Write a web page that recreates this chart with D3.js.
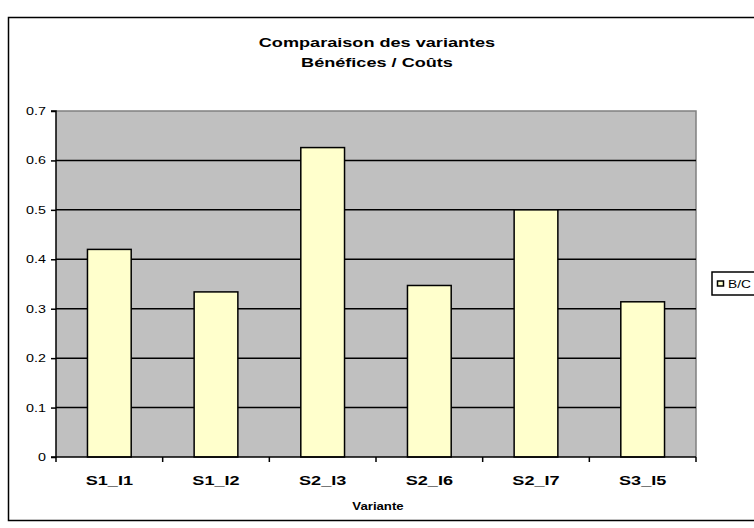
<!DOCTYPE html>
<html><head><meta charset="utf-8">
<script src="https://cdn.jsdelivr.net/npm/d3@7"></script>
<style>body{margin:0;background:#fff}svg{display:block}text{font-family:"Liberation Sans",Arial,sans-serif}</style>
</head><body><svg id="c" width="754" height="528"></svg>
<script>
const categories = ["S1_I1","S1_I2","S2_I3","S2_I6","S2_I7","S3_I5"];
const values = [0.42, 0.334, 0.626, 0.347, 0.5, 0.314];
const yTicks = [0,0.1,0.2,0.3,0.4,0.5,0.6,0.7];
const titleLines = ["Comparaison des variantes","Bénéfices / Coûts"];
const seriesName = "B/C";
const xTitle = "Variante";

const svg = d3.select("#c");
const L=56, R=696, T=111, B=457;
function stext(parent, x, y, str, size, bold, sx, anchor){
  const g = parent.append("g").attr("transform",`translate(${x},${y}) scale(${sx},1)`);
  g.append("text").attr("text-anchor",anchor||"middle").attr("font-size",size)
    .attr("font-weight",bold?"bold":"normal").attr("fill","#000").text(str);
  return g;
}
// outer frame
svg.append("rect").attr("x",8.5).attr("y",17.5).attr("width",760).attr("height",503)
  .attr("fill","#fff").attr("stroke","#000").attr("stroke-width",1.5);

const x = d3.scaleBand().domain(categories).range([L,R]).paddingInner(0.59).paddingOuter(0.295);
const xb = d3.scaleBand().domain(categories).range([L,R]);
const y = d3.scaleLinear().domain([0,0.7]).range([B,T]);

svg.append("rect").attr("x",L).attr("y",T).attr("width",R-L).attr("height",B-T).attr("fill","#c0c0c0");
svg.append("path").attr("d",`M${L},${T}H${R}V${B}`).attr("fill","none").attr("stroke","#808080").attr("stroke-width",1.5);
svg.append("g").selectAll("line").data(yTicks.filter(d=>d>0 && d<0.7)).join("line")
  .attr("x1",L).attr("x2",R).attr("y1",d=>y(d)).attr("y2",d=>y(d)).attr("stroke","#000").attr("stroke-width",1.5);
svg.append("g").selectAll("rect").data(values).join("rect")
  .attr("x",(d,i)=>x(categories[i])).attr("width",x.bandwidth())
  .attr("y",d=>y(d)).attr("height",d=>B-y(d))
  .attr("fill","#ffffcc").attr("stroke","#000").attr("stroke-width",1.5);

// y axis
const ya = svg.append("g").attr("transform",`translate(${L},0)`)
  .call(d3.axisLeft(y).tickValues(yTicks).tickFormat(()=>"").tickSize(5));
ya.select(".domain").attr("stroke","#000").attr("stroke-width",1.5).attr("d",`M-5,${T}H0V${B}H-5`);
ya.selectAll(".tick line").attr("stroke","#000").attr("stroke-width",1.5);
const yl = svg.append("g");
yTicks.forEach(t=>stext(yl, L-10, y(t)+4, d3.format("")(t), 11, false, 1.3, "end"));

// x axis
const xg = svg.append("g");
xg.append("line").attr("x1",L).attr("x2",R).attr("y1",B).attr("y2",B).attr("stroke","#000").attr("stroke-width",1.5);
const bounds = categories.map(c=>xb(c)).concat([R]);
xg.selectAll("line.t").data(bounds).join("line").attr("class","t")
  .attr("x1",d=>d).attr("x2",d=>d).attr("y1",B).attr("y2",B+5).attr("stroke","#000").attr("stroke-width",1.5);
categories.forEach(c=>stext(xg, xb(c)+xb.bandwidth()/2, 485, c, 12.5, true, 1.45));

stext(svg, 378, 510, xTitle, 11, true, 1.2);

titleLines.forEach((t,i)=>stext(svg, 377, 47+i*20, t, 12.5, true, 1.45));

// legend
const lg = svg.append("g");
lg.append("rect").attr("x",712).attr("y",272).attr("width",60).attr("height",23)
  .attr("fill","#fff").attr("stroke","#000").attr("stroke-width",1.5);
lg.append("rect").attr("x",717.5).attr("y",281).attr("width",6).attr("height",5)
  .attr("fill","#ffffcc").attr("stroke","#000").attr("stroke-width",1.5);
stext(lg, 728, 288, seriesName, 11, false, 1.25, "start");
</script></body></html>
